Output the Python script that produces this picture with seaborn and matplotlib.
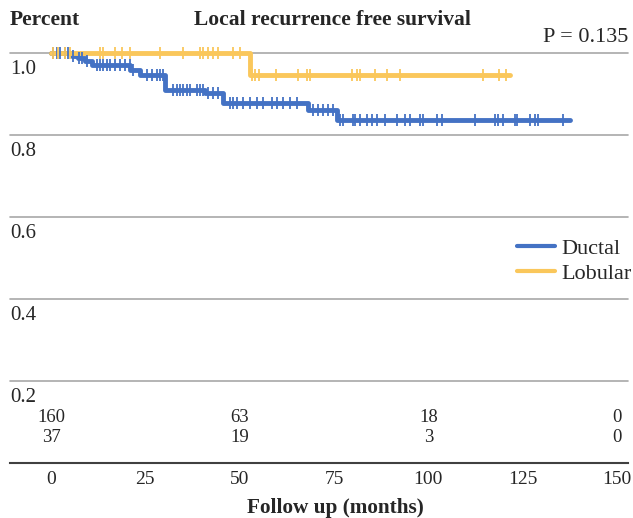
import numpy as np
import matplotlib
matplotlib.use("Agg")
import matplotlib.pyplot as plt
import matplotlib.transforms as mtransforms
import seaborn as sns

# --- Dados ---
ductal_times = [0, 5.5, 7.2, 9.0, 10.9, 21.0, 23.5, 30.2, 40.8, 45.6, 68.1, 75.8, 137.6]
ductal_surv = [1.0, 0.994, 0.987, 0.981, 0.972, 0.958, 0.946, 0.911, 0.902, 0.879, 0.861, 0.837, 0.837]
ductal_censor = [0.5, 1.6, 2.4, 3.7, 4.5, 5.8, 7.4, 8.2, 9.5, 12.2, 13.0, 13.8, 14.8, 15.6, 17.0,
                 18.3, 19.6, 20.9, 21.7, 25.4, 26.7, 28.1, 28.9, 29.7, 32.3, 33.4, 34.2, 35.0,
                 36.0, 36.8, 38.7, 39.5, 40.3, 41.6, 42.9, 44.3, 47.4, 48.2, 49.3, 50.9, 52.7,
                 54.6, 56.2, 58.6, 59.9, 61.5, 63.4, 65.2, 69.4, 70.8, 72.1, 73.4, 74.7, 76.6,
                 77.4, 80.0, 80.6, 81.9, 83.8, 85.1, 86.4, 88.5, 91.7, 93.8, 95.1, 97.8, 98.6,
                 102.3, 103.6, 112.4, 117.7, 118.5, 119.8, 123.0, 123.5, 126.9, 128.3, 129.1,
                 135.7]

lobular_times = [0, 52.7, 121.7]
lobular_surv = [1.0, 0.947, 0.947]
lobular_censor = [0.5, 1.9, 3.7, 5.0, 13.0, 13.8, 17.0, 18.8, 20.9, 28.9, 35.0, 39.5, 40.3,
                  41.6, 43.0, 44.3, 48.2, 50.1, 53.2, 54.0, 55.0, 59.5, 65.5, 67.9, 68.7,
                  79.8, 81.1, 81.9, 85.9, 89.1, 92.5, 114.5, 118.7, 120.6]

risk_times = [0, 50, 100, 150]
risk_ductal = [160, 63, 18, 0]
risk_lobular = [37, 19, 3, 0]

x_ticks = [0, 25, 50, 75, 100, 125, 150]
y_grid = [0.2, 0.4, 0.6, 0.8, 1.0]

BLUE = "#4472C4"
GOLD = "#FAC75B"

sns.set_style("white")
plt.rcParams["font.family"] = ["Liberation Serif", "DejaVu Serif"]

W, H = 633, 518
fig = plt.figure(figsize=(W / 100, H / 100), dpi=100)
# eixo em pixels: x 10..628, y 40..463
ax = fig.add_axes([10 / W, (H - 463) / H, 618 / W, 423 / H])


def surv_at(times, surv, t):
    idx = np.searchsorted(times, t, side="right") - 1
    return np.array(surv)[idx]


for v in y_grid:
    ax.axhline(v, color="#a8a8a8", lw=1.2, zorder=1)

for times, surv, cens, color, label in [
    (ductal_times, ductal_surv, ductal_censor, BLUE, "Ductal"),
    (lobular_times, lobular_surv, lobular_censor, GOLD, "Lobular"),
]:
    sns.lineplot(x=times, y=surv, drawstyle="steps-post", color=color, lw=3.5,
                 label=label, ax=ax, zorder=3)
    sns.scatterplot(x=cens, y=surv_at(times, surv, cens), marker="|", s=72,
                    color=color, linewidth=1.3, legend=False, ax=ax, zorder=4)

for line in ax.lines:
    line.set_clip_on(False)
for coll in ax.collections:
    coll.set_clip_on(False)

ax.set_xlim(-10.87, 152.9)
ax.set_ylim(0, 1.032)
ax.set_yticks([])
ax.set_xticks(x_ticks)
ax.tick_params(axis="x", direction="in", length=10, width=1.2, color="#404040",
               pad=6, labelsize=14)
for s in ["left", "top", "right"]:
    ax.spines[s].set_visible(False)
ax.spines["bottom"].set_color("#404040")
ax.spines["bottom"].set_linewidth(1.5)

# rótulos do eixo y abaixo das linhas de grade
for v in y_grid:
    off = mtransforms.offset_copy(ax.transData, fig=fig, x=0, y=-16, units="dots")
    ax.text(0, v, f"{v:.1f}", transform=mtransforms.blended_transform_factory(
        ax.transAxes, off), ha="left", va="center", fontsize=15)

# números em risco
trans = mtransforms.blended_transform_factory(ax.transData, ax.transAxes)
for t, a, b in zip(risk_times, risk_ductal, risk_lobular):
    ax.text(t, (463 - 418) / 423, str(a), transform=trans, ha="center", va="center", fontsize=13.5)
    ax.text(t, (463 - 438) / 423, str(b), transform=trans, ha="center", va="center", fontsize=13.5)

fig.text(10 / W, 1 - 20 / H, "Percent", fontweight="bold", fontsize=15.5, va="center", ha="left")
fig.text(332 / W, 1 - 20 / H, "Local recurrence free survival", fontweight="bold",
         fontsize=15.5, va="center", ha="center")
fig.text(628 / W, 1 - 38 / H, "P = 0.135", fontsize=16, va="center", ha="right")
fig.text(335 / W, 1 - 508 / H, "Follow up (months)", fontweight="bold", fontsize=15.3,
         va="center", ha="center")

ax.legend(loc="upper left", bbox_to_anchor=(517 / W, 1 - 238 / H), bbox_transform=fig.transFigure,
          frameon=False, handlelength=1.7, handletextpad=0.3, labelspacing=0.2,
          borderpad=0, borderaxespad=0, fontsize=16)
leg = ax.get_legend()
for h in leg.legend_handles:
    h.set_linewidth(3)

fig.savefig("out.png", dpi=100)
